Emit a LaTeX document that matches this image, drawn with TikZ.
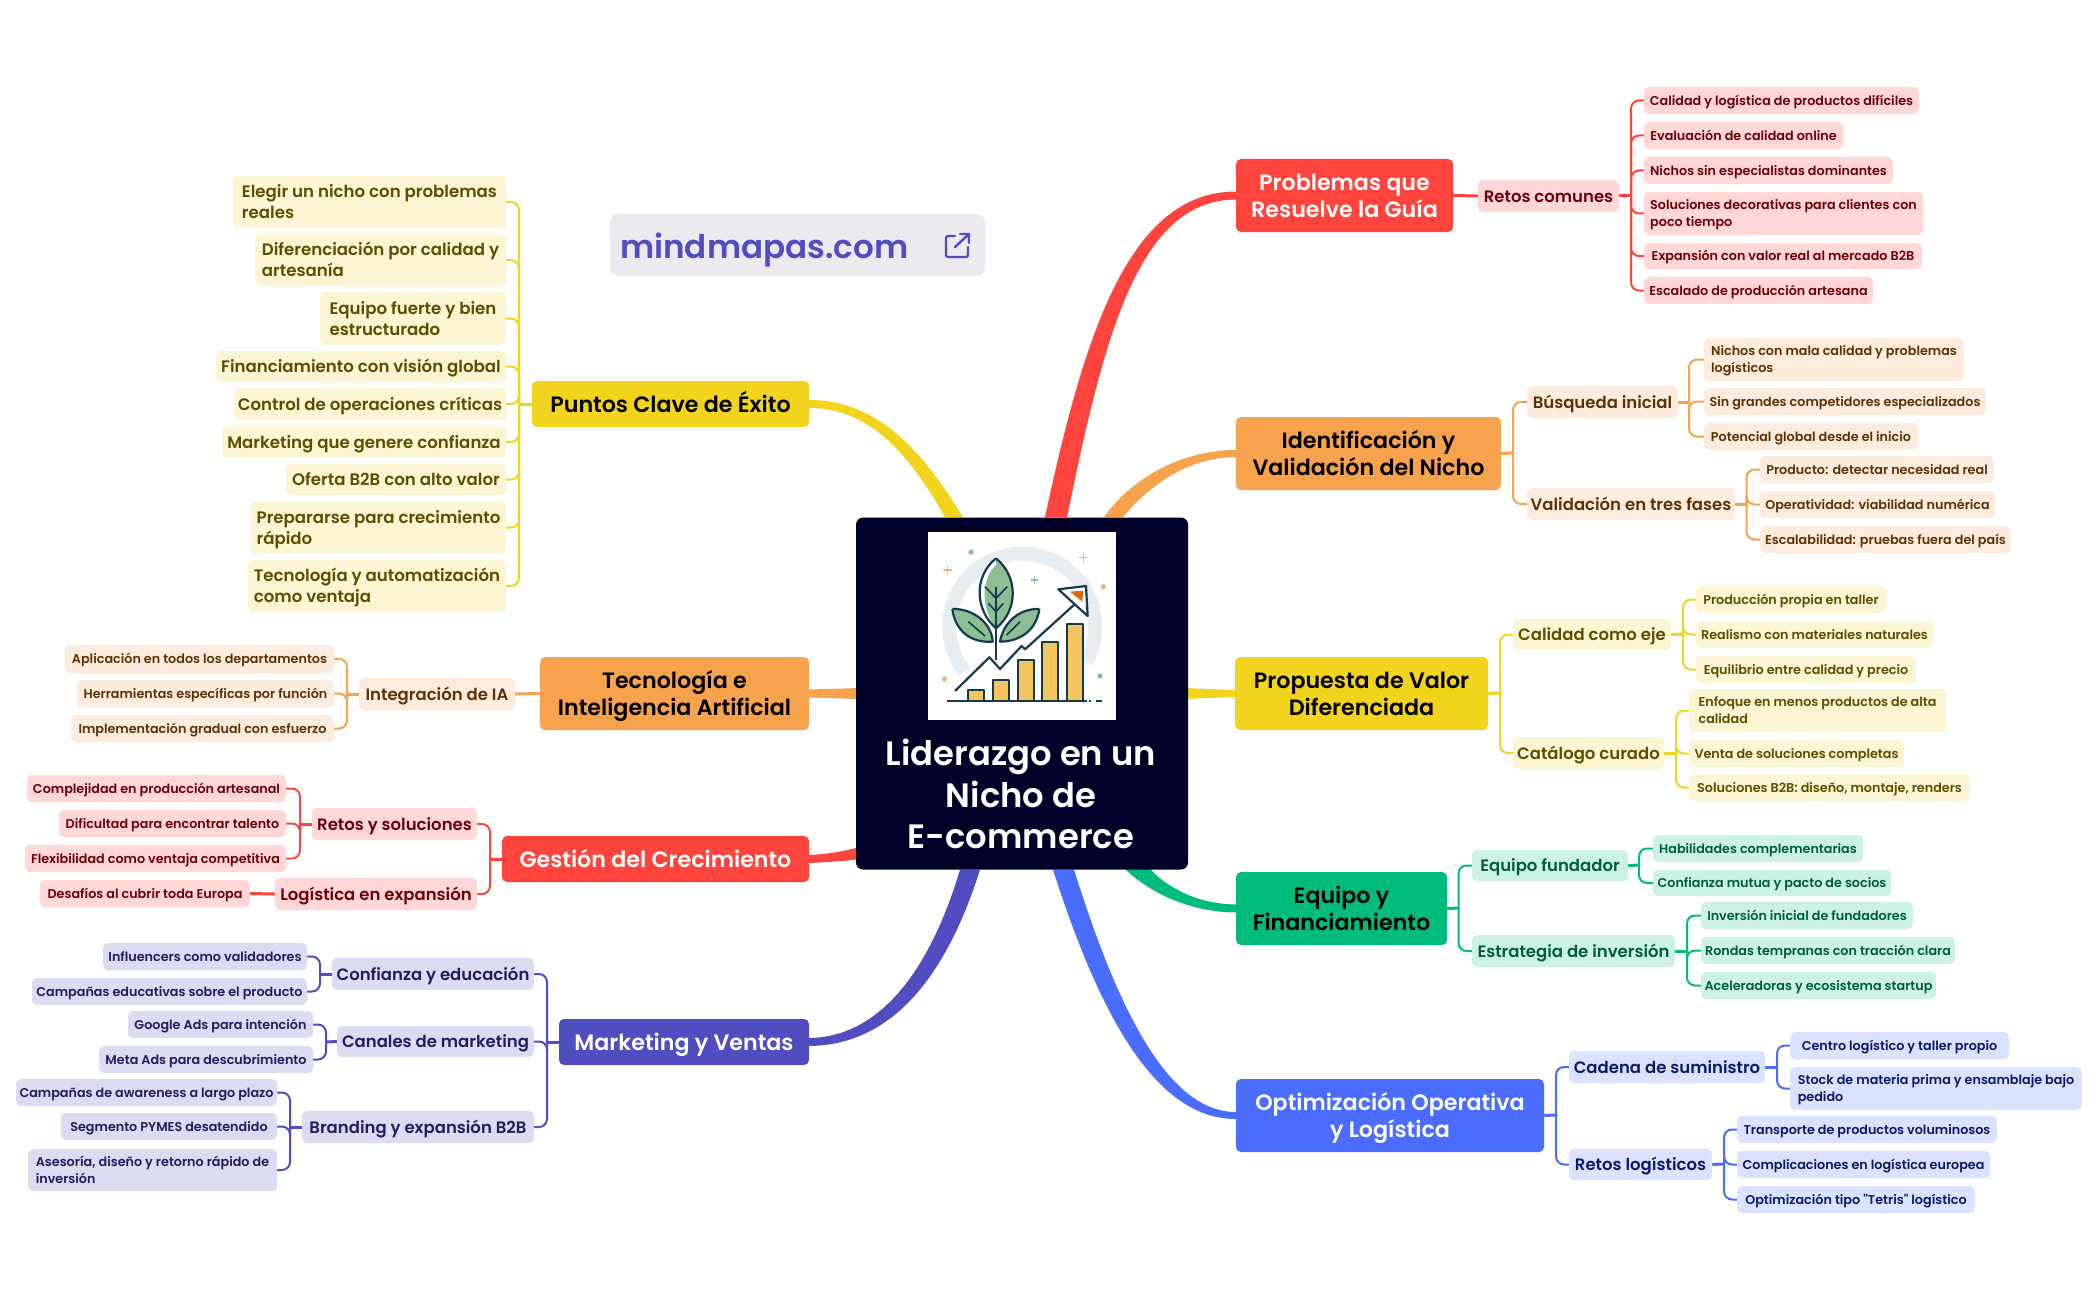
\documentclass[tikz,border=0pt]{standalone}
\usepackage{fontspec}
\usetikzlibrary{backgrounds}
\setmainfont{Poppins}
\newfontfamily\medfont{Poppins SemiBold}

\definecolor{RdF}{HTML}{FF443D}\definecolor{RdL}{HTML}{FFD7D7}\definecolor{RdT}{HTML}{6B0008}
\definecolor{OrF}{HTML}{F7A24C}\definecolor{OrL}{HTML}{FDECDD}\definecolor{OrT}{HTML}{5C3204}
\definecolor{YeF}{HTML}{F2D41F}\definecolor{YeL}{HTML}{FCF5D3}\definecolor{YeT}{HTML}{5C4E00}
\definecolor{GrF}{HTML}{00BC7B}\definecolor{GrL}{HTML}{CCF2E5}\definecolor{GrT}{HTML}{005C3C}
\definecolor{BlF}{HTML}{4A6CFF}\definecolor{BlL}{HTML}{DBE2FF}\definecolor{BlT}{HTML}{0A1A66}
\definecolor{PuF}{HTML}{4F4DC0}\definecolor{PuL}{HTML}{DBDCF2}\definecolor{PuT}{HTML}{1F1E5E}
\definecolor{rootbg}{HTML}{000028}
\definecolor{logobg}{HTML}{ECEAEE}
\definecolor{ink}{HTML}{143A4F}
\definecolor{leafgreen}{HTML}{8DBE93}
\definecolor{barfill}{HTML}{F6C55F}
\definecolor{ringgray}{HTML}{E8EDF1}
\definecolor{sparkor}{HTML}{F0B070}

\tikzset{
  box/.style={rectangle, rounded corners=5pt, inner sep=0pt},
  topic/.style={box, fill=#1F, font=\medfont\fontsize{22.2}{26.5}\selectfont, align=center},
  subtopic/.style={box, fill=#1L, text=#1T, font=\medfont\fontsize{16.5}{21}\selectfont},
  bigleaf/.style={box, fill=#1L, text=#1T, font=\medfont\fontsize{16.6}{21}\selectfont, align=left},
  leaf/.style={box, fill=#1L, text=#1T, font=\medfont\fontsize{12.75}{17}\selectfont, align=left},
  wire/.style={#1F, line width=2pt, rounded corners=8pt},
  stub/.style={#1F, line width=3pt},
  sparkle/.style={line width=1.4pt, line cap=round},
  iconline/.style={ink, line width=2.2pt, line join=round}
}

% box from its corners: style, name, x1, y1, x2, y2, text
\newcommand{\bx}[7]{%
  \pgfmathsetmacro\bxw{#5-#3}\pgfmathsetmacro\bxh{#6-#4}%
  \pgfmathsetmacro\bxa{(#3+#5)/2}\pgfmathsetmacro\bxb{(#4+#6)/2}%
  \node[#1, minimum width=\bxw pt, minimum height=\bxh pt] (#2) at (\bxa,\bxb) {\rule{0pt}{1.06em}#7\rule[-.3em]{0pt}{.3em}};%
}

\begin{document}
\begin{tikzpicture}[x=1pt,y=-1pt]
\useasboundingbox (0,0) rectangle (2098,1300);

% centre
\bx{box, fill=rootbg, rounded corners=7pt}{root}{856}{517.5}{1188}{869.5}{}
\node[text=white, font=\medfont\fontsize{33.8}{41.5}\selectfont, align=center] (roottxt) at (1021,794) {Liderazgo en un\\Nicho de\\E-commerce};

% icon
\begin{scope}[shift={(920,530)}, x=0.3333pt, y=-0.3333pt]
\fill[white] (25,6) rectangle (589,570);
\draw[ringgray, line width=14pt] (498,396) arc[start angle=-29, end angle=218, radius=73pt];
\fill[sparkor] (550,170) circle[radius=2.6pt];
\fill[sparkor] (73,447) circle[radius=2.6pt];
\fill[leafgreen] (153,66) circle[radius=2.6pt];
\fill[leafgreen] (540,438) circle[radius=2.6pt];
\draw[sparkle, sparkor] (72,120) -- (94,120) (83,109) -- (83,131);
\draw[sparkle, sparkor] (479,83) -- (501,83) (490,72) -- (490,94);
\draw[sparkle, leafgreen] (334,150) -- (354,150) (344,140) -- (344,160);
% leaves
\fill[white] (228,85) .. controls (160,140) and (165,240) .. (228,295) .. controls (295,240) and (295,140) .. (228,85);
\fill[leafgreen] (228,105) .. controls (180,150) and (185,240) .. (228,295) .. controls (295,240) and (295,140) .. (228,85);
\draw[iconline] (228,85) .. controls (160,140) and (165,240) .. (228,295) .. controls (295,240) and (295,140) .. (228,85);
\draw[iconline] (228,170) -- (228,390);
\draw[iconline, line width=1.6pt] (195,170) -- (228,205) -- (262,170) (205,220) -- (228,245) -- (250,220);
\draw[iconline, fill=leafgreen] (97,237) .. controls (160,235) and (215,280) .. (218,335) .. controls (150,340) and (105,300) .. (97,237);
\draw[iconline, line width=1.6pt] (145,275) -- (195,318);
\draw[iconline, fill=leafgreen] (358,237) .. controls (295,235) and (250,280) .. (240,335) .. controls (300,335) and (350,300) .. (358,237);
\draw[iconline, line width=1.6pt] (300,275) -- (260,315);
% bars
\draw[iconline, fill=barfill] (145,513) rectangle (193,480);
\draw[iconline, fill=barfill] (219,513) rectangle (267,450);
\draw[iconline, fill=barfill] (293,513) rectangle (341,390);
\draw[iconline, fill=barfill] (366,513) rectangle (414,335);
\draw[iconline, fill=barfill] (442,513) rectangle (490,282);
\draw[iconline, line width=2.6pt] (80,513) -- (500,513) (508,513) -- (514,513) (527,513) -- (545,513);
% growth arrow
\draw[iconline] (105,483) -- (208,382) -- (240,417) -- (305,348) -- (315,358) -- (465,222);
\draw[iconline, fill=white] (415,178) -- (498,168) -- (503,258) -- cycle;
\fill[orange!85!black] (450,185) -- (490,182) -- (487,215) -- cycle;
\end{scope}

% logo
\bx{box, fill=logobg, rounded corners=8pt}{logo}{610}{214}{985}{276}{}
\node[text=PuF, font=\medfont\fontsize{32.6}{40}\selectfont, anchor=west, inner sep=0pt] (logotxt) at (620,250) {mindmapas.com};
\draw[PuF, line width=2.4pt, line cap=round, line join=round, rounded corners=1.5pt] (955,236) -- (946,236) -- (946,257) -- (968,257) -- (968,247);
\draw[PuF, line width=2.4pt, line cap=round, line join=round] (955,247) -- (969,234) (960,234) -- (969,234) -- (969,243);

% right side
\bx{topic=Rd, text=white}{prob}{1236}{159}{1453}{232}{Problemas que\\Resuelve la Guía}
\bx{subtopic=Rd}{retos}{1478}{180}{1619}{212}{Retos comunes}
\bx{leaf=Rd}{retosa}{1644}{87}{1919}{114}{Calidad y logística de productos difíciles}
\bx{leaf=Rd}{retosb}{1644}{122}{1843}{149}{Evaluación de calidad online}
\bx{leaf=Rd}{retosc}{1644}{157}{1893}{184}{Nichos sin especialistas dominantes}
\bx{leaf=Rd}{retosd}{1644}{192}{1923}{235}{Soluciones decorativas para clientes con\\poco tiempo}
\bx{leaf=Rd}{retose}{1644}{243}{1922}{269}{Expansión con valor real al mercado B2B}
\bx{leaf=Rd}{retosf}{1644}{277}{1873}{304}{Escalado de producción artesana}

\bx{topic=Or}{ident}{1236}{417}{1501}{490}{Identificación y\\Validación del Nicho}
\bx{subtopic=Or}{busq}{1527}{386}{1678}{418}{Búsqueda inicial}
\bx{subtopic=Or}{valid}{1527}{488}{1735}{520}{Validación en tres fases}
\bx{leaf=Or}{busqa}{1704}{338}{1964}{381}{Nichos con mala calidad y problemas\\logísticos}
\bx{leaf=Or}{busqb}{1704}{388}{1986}{415}{Sin grandes competidores especializados}
\bx{leaf=Or}{busqc}{1704}{423}{1918}{450}{Potencial global desde el inicio}
\bx{leaf=Or}{valida}{1760}{456}{1994}{483}{Producto: detectar necesidad real}
\bx{leaf=Or}{validb}{1760}{491}{1995}{518}{Operatividad: viabilidad numérica}
\bx{leaf=Or}{validc}{1760}{526}{2011}{553}{Escalabilidad: pruebas fuera del país}

\bx{topic=Ye}{prop}{1235}{657}{1488}{730}{Propuesta de Valor\\Diferenciada}
\bx{subtopic=Ye}{cali}{1513}{619}{1671}{650}{Calidad como eje}
\bx{subtopic=Ye}{cata}{1513}{737}{1664}{769}{Catálogo curado}
\bx{leaf=Ye}{calia}{1696}{586}{1886}{613}{Producción propia en taller}
\bx{leaf=Ye}{calib}{1696}{621}{1933}{648}{Realismo con materiales naturales}
\bx{leaf=Ye}{calic}{1696}{656}{1916}{683}{Equilibrio entre calidad y precio}
\bx{leaf=Ye}{cataa}{1689}{689}{1946}{732}{Enfoque en menos productos de alta\\calidad}
\bx{leaf=Ye}{catab}{1689}{740}{1904}{767}{Venta de soluciones completas}
\bx{leaf=Ye}{catac}{1689}{774}{1970}{801}{Soluciones B2B: diseño, montaje, renders}

\bx{topic=Gr}{equi}{1236}{872}{1447}{945}{Equipo y\\Financiamiento}
\bx{subtopic=Gr}{fund}{1472}{850}{1628}{881}{Equipo fundador}
\bx{subtopic=Gr}{estr}{1472}{935}{1675}{967}{Estrategia de inversión}
\bx{leaf=Gr}{funda}{1653}{835}{1863}{862}{Habilidades complementarias}
\bx{leaf=Gr}{fundb}{1653}{870}{1891}{896}{Confianza mutua y pacto de socios}
\bx{leaf=Gr}{estra}{1701}{902}{1913}{929}{Inversión inicial de fundadores}
\bx{leaf=Gr}{estrb}{1701}{937}{1955}{964}{Rondas tempranas con tracción clara}
\bx{leaf=Gr}{estrc}{1701}{972}{1936}{999}{Aceleradoras y ecosistema startup}

\bx{topic=Bl, text=white}{opti}{1236}{1079}{1544}{1152}{Optimización Operativa\\y Logística}
\bx{subtopic=Bl}{cade}{1569}{1051}{1765}{1083}{Cadena de suministro}
\bx{subtopic=Bl}{rlog}{1569}{1149}{1712}{1180}{Retos logísticos}
\bx{leaf=Bl}{cadea}{1790}{1032}{2009}{1059}{Centro logístico y taller propio}
\bx{leaf=Bl}{cadeb}{1790}{1067}{2082}{1110}{Stock de materia prima y ensamblaje bajo\\pedido}
\bx{leaf=Bl}{rloga}{1737}{1116}{1997}{1143}{Transporte de productos voluminosos}
\bx{leaf=Bl}{rlogb}{1737}{1151}{1990}{1178}{Complicaciones en logística europea}
\bx{leaf=Bl}{rlogc}{1737}{1186}{1975}{1213}{Optimización tipo "Tetris" logístico}

% left side
\bx{topic=Ye}{punt}{532}{381}{809}{427}{Puntos Clave de Éxito}
\bx{bigleaf=Ye}{punta}{233}{176}{506}{228}{Elegir un nicho con problemas\\reales}
\bx{bigleaf=Ye}{puntb}{255}{234}{506}{286}{Diferenciación por calidad y\\artesanía}
\bx{bigleaf=Ye}{puntc}{320}{292}{506}{345}{Equipo fuerte y bien\\estructurado}
\bx{bigleaf=Ye}{puntd}{216}{351}{506}{382}{Financiamiento con visión global}
\bx{bigleaf=Ye}{punte}{234}{388}{506}{420}{Control de operaciones críticas}
\bx{bigleaf=Ye}{puntf}{222}{426}{506}{458}{Marketing que genere confianza}
\bx{bigleaf=Ye}{puntg}{286}{464}{506}{495}{Oferta B2B con alto valor}
\bx{bigleaf=Ye}{punth}{251}{501}{506}{554}{Prepararse para crecimiento\\rápido}
\bx{bigleaf=Ye}{punti}{248}{560}{506}{612}{Tecnología y automatización\\como ventaja}

\bx{topic=Or}{tecn}{540}{657}{809}{730}{Tecnología e\\Inteligencia Artificial}
\bx{subtopic=Or}{inte}{359}{678}{515}{710}{Integración de IA}
\bx{leaf=Or}{intea}{65}{645}{334}{673}{Aplicación en todos los departamentos}
\bx{leaf=Or}{inteb}{77}{680}{334}{707}{Herramientas específicas por función}
\bx{leaf=Or}{intec}{71}{715}{334}{742}{Implementación gradual con esfuerzo}

\bx{topic=Rd, text=white}{gest}{502}{836}{809}{882}{Gestión del Crecimiento}
\bx{subtopic=Rd}{rsol}{312}{808}{477}{840}{Retos y soluciones}
\bx{subtopic=Rd}{loge}{275}{878}{477}{910}{Logística en expansión}
\bx{leaf=Rd}{rsola}{27}{775}{286}{802}{Complejidad en producción artesanal}
\bx{leaf=Rd}{rsolb}{59}{810}{286}{837}{Dificultad para encontrar talento}
\bx{leaf=Rd}{rsolc}{25}{845}{286}{872}{Flexibilidad como ventaja competitiva}
\bx{leaf=Rd}{logea}{40}{880}{250}{907}{Desafíos al cubrir toda Europa}

\bx{topic=Pu, text=white}{mark}{559}{1019}{809}{1065}{Marketing y Ventas}
\bx{subtopic=Pu}{conf}{332}{958}{534}{990}{Confianza y educación}
\bx{subtopic=Pu}{cana}{337}{1026}{534}{1057}{Canales de marketing}
\bx{subtopic=Pu}{bran}{302}{1111}{534}{1143}{Branding y expansión B2B}
\bx{leaf=Pu}{confa}{103}{943}{307}{970}{Influencers como validadores}
\bx{leaf=Pu}{confb}{32}{978}{307}{1005}{Campañas educativas sobre el producto}
\bx{leaf=Pu}{canaa}{128}{1011}{313}{1038}{Google Ads para intención}
\bx{leaf=Pu}{canab}{99}{1046}{313}{1073}{Meta Ads para descubrimiento}
\bx{leaf=Pu}{brana}{16}{1079}{277}{1106}{Campañas de awareness a largo plazo}
\bx{leaf=Pu}{branb}{61}{1113}{277}{1140}{Segmento PYMES desatendido}
\bx{leaf=Pu}{branc}{28}{1149}{277}{1191}{Asesoría, diseño y retorno rápido de\\inversión}

% spines
\coordinate (sretos) at (1631,196);
\coordinate (sident) at (1513,453);
\coordinate (sbusq) at (1689,402);
\coordinate (svalid) at (1746.5,504);
\coordinate (sprop) at (1500,693);
\coordinate (scali) at (1683,634);
\coordinate (scata) at (1676,753);
\coordinate (sequi) at (1458.5,908);
\coordinate (sfund) at (1639,865);
\coordinate (sestr) at (1687,951);
\coordinate (sopti) at (1556,1115);
\coordinate (scade) at (1777,1067);
\coordinate (srlog) at (1724,1164);
\coordinate (spunt) at (519,404);
\coordinate (sinte) at (347,694);
\coordinate (srsol) at (300,824);
\coordinate (sgest) at (490,859);
\coordinate (smark) at (547,1042);
\coordinate (sconf) at (320,974);
\coordinate (scana) at (326,1042);
\coordinate (sbran) at (290,1127);

\begin{scope}[on background layer]
\fill[white] (0,0) rectangle (2098,1300);
% thick branches
\fill[RdF] ([yshift=4]prob.west) .. controls (1130,192) and (1085,330) .. ([xshift=23]root.north) -- ([xshift=45]root.north) .. controls (1105,330) and (1140,200) .. ([yshift=-4]prob.west) -- cycle;
\fill[OrF] ([yshift=3.5]ident.west) .. controls (1180,450) and (1130,480) .. ([xshift=82]root.north) -- ([xshift=101]root.north) .. controls (1145,490) and (1185,457) .. ([yshift=-3.5]ident.west) -- cycle;
\fill[YeF] ([yshift=3.5]prop.west) -- (1184,688) -- (1184,699) -- ([yshift=-3.5]prop.west) -- cycle;
\fill[GrF] ([yshift=4]equi.west) .. controls (1200,904) and (1170,890) .. (1150,869) -- (1125,869) .. controls (1150,893) and (1190,912) .. ([yshift=-4]equi.west) -- cycle;
\fill[BlF] ([yshift=3.5]opti.west) .. controls (1165,1112) and (1115,1000) .. ([xshift=52]root.south) -- ([xshift=31]root.south) .. controls (1095,1000) and (1150,1119) .. ([yshift=-3.5]opti.west) -- cycle;
\fill[YeF] ([yshift=4]punt.east) .. controls (880,400) and (925,455) .. ([xshift=-59]root.north) -- ([xshift=-77]root.north) .. controls (910,455) and (870,408) .. ([yshift=-4]punt.east) -- cycle;
\fill[OrF] ([yshift=4]tecn.east) -- (860,688) -- (860,699) -- ([yshift=-4]tecn.east) -- cycle;
\fill[RdF] ([yshift=4]gest.east) .. controls (830,854) and (845,851) .. (860,847) -- (860,859) .. controls (845,861) and (830,862) .. ([yshift=-4]gest.east) -- cycle;
\fill[PuF] ([yshift=4]mark.east) .. controls (880,1037) and (930,970) .. ([xshift=-62]root.south) -- ([xshift=-42]root.south) .. controls (945,980) and (890,1045) .. ([yshift=-4]mark.east) -- cycle;
% thin links
\draw[stub=Rd] (prob.east) -- (retos.west);
\draw[stub=Rd] (retos.east) -- (sretos);
\foreach \n in {retosa,retosb,retosc,retosd,retose,retosf} \draw[wire=Rd] (sretos) |- (\n.west);
\draw[stub=Or] (ident.east) -- (sident);
\foreach \n in {busq,valid} \draw[wire=Or] (sident) |- (\n.west);
\draw[stub=Or] (busq.east) -- (sbusq);
\foreach \n in {busqa,busqb,busqc} \draw[wire=Or] (sbusq) |- (\n.west);
\draw[stub=Or] (valid.east) -- (svalid);
\foreach \n in {valida,validb,validc} \draw[wire=Or] (svalid) |- (\n.west);
\draw[stub=Ye] (prop.east) -- (sprop);
\foreach \n in {cali,cata} \draw[wire=Ye] (sprop) |- (\n.west);
\draw[stub=Ye] (cali.east) -- (scali);
\foreach \n in {calia,calib,calic} \draw[wire=Ye] (scali) |- (\n.west);
\draw[stub=Ye] (cata.east) -- (scata);
\foreach \n in {cataa,catab,catac} \draw[wire=Ye] (scata) |- (\n.west);
\draw[stub=Gr] (equi.east) -- (sequi);
\foreach \n in {fund,estr} \draw[wire=Gr] (sequi) |- (\n.west);
\draw[stub=Gr] (fund.east) -- (sfund);
\foreach \n in {funda,fundb} \draw[wire=Gr] (sfund) |- (\n.west);
\draw[stub=Gr] (estr.east) -- (sestr);
\foreach \n in {estra,estrb,estrc} \draw[wire=Gr] (sestr) |- (\n.west);
\draw[stub=Bl] (opti.east) -- (sopti);
\foreach \n in {cade,rlog} \draw[wire=Bl] (sopti) |- (\n.west);
\draw[stub=Bl] (cade.east) -- (scade);
\foreach \n in {cadea,cadeb} \draw[wire=Bl] (scade) |- (\n.west);
\draw[stub=Bl] (rlog.east) -- (srlog);
\foreach \n in {rloga,rlogb,rlogc} \draw[wire=Bl] (srlog) |- (\n.west);
\draw[stub=Ye] (punt.west) -- (spunt);
\foreach \n in {punta,puntb,puntc,puntd,punte,puntf,puntg,punth,punti} \draw[wire=Ye] (spunt) |- (\n.east);
\draw[stub=Or] (tecn.west) -- (inte.east);
\draw[stub=Or] (inte.west) -- (sinte);
\foreach \n in {intea,inteb,intec} \draw[wire=Or] (sinte) |- (\n.east);
\draw[stub=Rd] (gest.west) -- (sgest);
\foreach \n in {rsol,loge} \draw[wire=Rd] (sgest) |- (\n.east);
\draw[stub=Rd] (rsol.west) -- (srsol);
\foreach \n in {rsola,rsolb,rsolc} \draw[wire=Rd] (srsol) |- (\n.east);
\draw[stub=Rd] (loge.west) -- (logea.east);
\draw[stub=Pu] (mark.west) -- (smark);
\foreach \n in {conf,cana,bran} \draw[wire=Pu] (smark) |- (\n.east);
\draw[stub=Pu] (conf.west) -- (sconf);
\foreach \n in {confa,confb} \draw[wire=Pu] (sconf) |- (\n.east);
\draw[stub=Pu] (cana.west) -- (scana);
\foreach \n in {canaa,canab} \draw[wire=Pu] (scana) |- (\n.east);
\draw[stub=Pu] (bran.west) -- (sbran);
\foreach \n in {brana,branb,branc} \draw[wire=Pu] (sbran) |- (\n.east);
\end{scope}
\end{tikzpicture}
\end{document}
